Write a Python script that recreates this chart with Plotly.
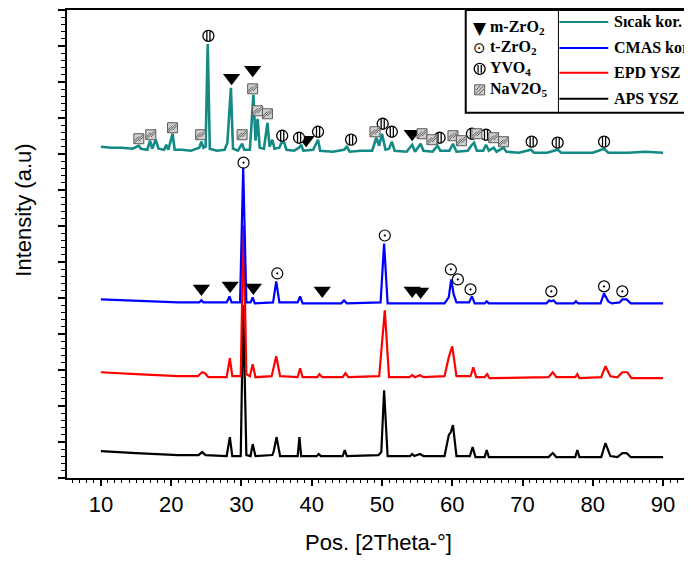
import plotly.graph_objects as go

# ---------------- data (2Theta in degrees, intensity in a.u.) ----------------
sicak_x = [10, 11.5, 13, 14.5, 15.4, 15.7, 16.6, 17.0, 17.3, 17.8, 18.2, 19.0, 19.3, 19.6, 20.2, 20.5,
           21.5, 22.8, 24.0, 24.3, 24.6, 24.9, 25.2, 25.5, 26.5, 27.6, 28.0, 28.5, 28.8, 29.5, 30.1, 30.4,
           31.2, 31.7, 32.0, 32.3, 32.6, 33.2, 33.7, 34.0, 34.4, 34.7, 35.4, 35.7, 36.1, 36.4, 37.5, 38.2,
           38.5, 38.8, 40.2, 40.9, 41.2, 43.0, 44.6, 45.0, 45.4, 47.0, 48.6, 49.2, 49.6, 50.0, 50.5, 51.0,
           51.4, 51.8, 53.5, 54.3, 54.7, 55.5, 55.9, 57.2, 57.9, 58.3, 59.6, 60.1, 60.6, 62.2, 62.7, 63.1,
           63.5, 64.4, 64.8, 65.2, 65.9, 66.3, 67.3, 67.7, 69.5, 71.2, 71.6, 73.5, 75.0, 75.5, 78.0, 80.0,
           81.6, 82.2, 85.0, 87.5, 90.0]
sicak_y = [332, 331, 331, 330, 333, 330, 329, 338, 330, 339, 330, 329, 334, 329, 345, 329,
           329, 328, 331, 337, 331, 332, 435, 330, 328, 329, 336, 391, 330, 328, 335, 329,
           329, 384, 338, 360, 331, 330, 356, 332, 339, 330, 331, 336, 336, 329, 328, 331,
           334, 328, 329, 339, 328, 327, 329, 332, 327, 328, 328, 341, 333, 345, 329, 330,
           337, 328, 327, 334, 327, 335, 328, 327, 333, 328, 328, 335, 327, 328, 333, 336,
           328, 328, 334, 328, 331, 327, 331, 327, 326, 329, 326, 326, 329, 326, 326, 326,
           330, 326, 326, 327, 326]

cmas_x = [10, 13, 17, 21, 24.0, 24.3, 24.6, 27.9, 28.3, 28.6, 29.8, 30.25, 30.7, 31.3, 31.6, 31.9,
          34.5, 34.95, 35.4, 38.0, 38.35, 38.7, 44.2, 44.6, 45.0, 49.8, 50.3, 50.8, 58.9, 59.5, 59.85,
          60.2, 60.6, 62.4, 62.8, 63.2, 64.6, 64.9, 65.2, 73.4, 73.8, 74.1, 74.4, 74.8, 77.3, 77.6, 77.9,
          81.1, 81.6, 82.2, 82.7, 83.8, 84.2, 84.8, 85.4, 90.0]
cmas_y = [179, 178, 177, 176, 176, 178, 176, 176, 182, 176, 176, 311, 176, 176, 181, 175,
          176, 197, 176, 176, 182, 175, 175, 178, 175, 176, 235, 175, 175, 181, 199,
          184, 176, 176, 182, 175, 175, 177, 175, 175, 178, 177, 178, 175, 175, 177, 175,
          175, 185, 177, 175, 176, 179, 179, 175, 175]

epd_x = [10, 12, 15, 18, 21, 23.8, 24.4, 24.8, 25.3, 27.9, 28.35, 28.7, 29.9, 30.3, 30.7, 31.2, 31.6,
         32.0, 34.3, 34.95, 35.5, 38.0, 38.35, 38.7, 40.8, 41.1, 41.5, 44.4, 44.8, 45.2, 49.6, 50.4,
         51.0, 53.9, 54.3, 54.7, 55.4, 55.9, 58.9, 59.5, 60.0, 60.6, 62.6, 63.0, 63.4, 64.6, 64.95,
         65.3, 73.7, 74.3, 74.8, 77.5, 77.8, 78.1, 81.2, 81.8, 82.5, 83.5, 84.2, 84.9, 85.5, 90.0]
epd_y = [106, 105, 104, 103, 102, 102, 106, 105, 101, 101, 120, 102, 102, 253, 104, 102, 114,
         101, 102, 122, 102, 101, 110, 101, 101, 104, 101, 101, 105, 101, 102, 168,
         101, 101, 103, 101, 103, 101, 102, 121, 132, 102, 102, 111, 101, 101, 104,
         100, 101, 106, 101, 101, 104, 100, 101, 112, 102, 101, 106, 106, 100, 100]

aps_x = [10, 12, 15, 18, 21, 23.9, 24.4, 24.9, 27.9, 28.35, 28.7, 29.9, 30.25, 30.7, 31.3, 31.6, 32.0,
         34.4, 34.6, 35.0, 35.5, 38.0, 38.25, 38.5, 40.7, 41.0, 41.3, 44.4, 44.7, 45.0, 49.5, 49.9,
         50.3, 50.8, 54.0, 54.3, 54.6, 55.4, 55.9, 58.9, 59.5, 59.8, 60.1, 60.6, 62.5, 62.9, 63.3,
         64.6, 64.9, 65.2, 73.7, 74.3, 74.8, 77.5, 77.8, 78.1, 81.2, 81.8, 82.5, 83.5, 84.2, 84.8,
         85.4, 90.0]
aps_y = [27, 26, 25, 24, 23, 23, 26, 23, 22, 41, 22, 22, 173, 23, 22, 34, 22,
         23, 27, 41, 22, 22, 41, 22, 22, 24, 22, 22, 28, 22, 23, 26,
         88, 22, 22, 24, 22, 24, 22, 22, 43, 46, 53, 22, 22, 31, 21,
         21, 28, 21, 21, 25, 21, 21, 28, 21, 21, 35, 22, 21, 25, 25,
         21, 21]

# phase marks (position, height)
mzro2_x = [28.6, 31.6, 39.2, 54.3, 24.3, 28.4, 31.7, 41.5, 54.3, 55.5]
mzro2_y = [401, 409, 339, 345, 190, 193, 191, 188, 188, 187]
tzro2_x = [30.3, 35.1, 50.4, 59.8, 60.8, 62.6, 74.1, 81.6, 84.2]
tzro2_y = [316, 205, 243, 209, 199, 189, 187, 192, 187]
yvo4_x = [25.3, 35.8, 38.2, 40.9, 45.6, 50.1, 51.4, 58.2, 62.8, 64.8, 71.3, 75.0, 81.6]
yvo4_y = [443, 343, 341, 347, 339, 355, 347, 341, 345, 344, 337, 336, 337]
nav_x = [15.4, 17.1, 20.2, 24.2, 30.1, 31.6, 32.3, 33.7, 49.0, 55.7, 57.1, 60.1, 61.3, 63.5, 65.9, 67.3]
nav_y = [340, 344, 351, 344, 344, 390, 368, 365, 347, 345, 339, 343, 338, 345, 341, 337]

series_names = ["Sıcak kor.", "CMAS kor.", "EPD YSZ", "APS YSZ"]
series_colors = ["#138a86", "#0000ff", "#ff0000", "#000000"]
phase_labels = ["m-ZrO<sub>2</sub>", "t-ZrO<sub>2</sub>", "YVO<sub>4</sub>", "NaV2O<sub>5</sub>"]

# ---------------- figure ----------------
OFF = 8                     # default page margin of the html body
W, H = 692 - OFF, 563 - OFF
PLOT_L, PLOT_R, PLOT_T, PLOT_B = 67, 692, 9, 478   # page pixels of the plot frame
L, R, T, B = PLOT_L - OFF, 0, PLOT_T - OFF, H - (PLOT_B - OFF)
pw, ph = W - L - R, H - T - B
HATCH_FILL, HATCH_LINE = "#cfcfcf", "#5a5a5a"
LEG_FONT = 16

fig = go.Figure()
for xs, ys, c, w in [(aps_x, aps_y, series_colors[3], 2.2), (epd_x, epd_y, series_colors[2], 2.2),
                     (cmas_x, cmas_y, series_colors[1], 2.2), (sicak_x, sicak_y, series_colors[0], 2.6)]:
    fig.add_trace(go.Scatter(x=xs, y=ys, mode="lines", line=dict(color=c, width=w),
                             showlegend=False, hoverinfo="skip"))

fig.add_trace(go.Scatter(x=mzro2_x, y=mzro2_y, mode="markers", showlegend=False, hoverinfo="skip",
                         marker=dict(symbol="triangle-down", size=15, color="black")))
fig.add_trace(go.Scatter(x=tzro2_x, y=tzro2_y, mode="markers", showlegend=False, hoverinfo="skip",
                         marker=dict(symbol="circle-open-dot", size=11, color="black",
                                     line=dict(width=1.2, color="black"))))
# YVO4: circle with vertical stripes
fig.add_trace(go.Scatter(x=yvo4_x, y=yvo4_y, mode="markers", showlegend=False, hoverinfo="skip",
                         marker=dict(symbol="circle", size=11, color="white",
                                     line=dict(width=1.3, color="black"))))
for shift in (-0.22, 0.22):
    fig.add_trace(go.Scatter(x=[v + shift for v in yvo4_x], y=yvo4_y, mode="markers", showlegend=False,
                             hoverinfo="skip",
                             marker=dict(symbol="line-ns-open", size=8, color="black",
                                         line=dict(width=1.3, color="black"))))
# NaV2O5: hatched grey square
fig.add_trace(go.Scatter(x=nav_x, y=nav_y, mode="markers", showlegend=False, hoverinfo="skip",
                         marker=dict(symbol="square", size=10, color=HATCH_FILL,
                                     line=dict(width=1, color=HATCH_LINE))))
fig.add_trace(go.Scatter(x=nav_x, y=nav_y, mode="markers", showlegend=False, hoverinfo="skip",
                         marker=dict(symbol="line-ne-open", size=9, color=HATCH_LINE,
                                     line=dict(width=1, color=HATCH_LINE))))
for shift in (-0.33, 0.33):
    fig.add_trace(go.Scatter(x=[v + shift for v in nav_x], y=nav_y, mode="markers", showlegend=False,
                             hoverinfo="skip",
                             marker=dict(symbol="line-ne-open", size=4.5, color=HATCH_LINE,
                                         line=dict(width=1, color=HATCH_LINE))))


def px2paper(px, py):
    """page pixel -> paper coordinate"""
    return (px - OFF - L) / pw, (H - B - (py - OFF)) / ph


def pline(xa, ya, xb, yb, color, width):
    a = px2paper(xa, ya)
    b = px2paper(xb, yb)
    return dict(type="line", xref="paper", yref="paper", x0=a[0], y0=a[1], x1=b[0], y1=b[1],
                line=dict(color=color, width=width), layer="above")


shapes = []
x0, y0 = px2paper(467, 112)
x1, y1 = px2paper(700, PLOT_T)
shapes.append(dict(type="rect", xref="paper", yref="paper", x0=x0, y0=y0, x1=x1, y1=y1,
                   line=dict(color="black", width=2), fillcolor="white", layer="above"))
shapes.append(pline(560, 112, 560, PLOT_T, "black", 1))

annotations = []
row_y = [27, 47, 68, 89]
sym_x = 481
# legend symbols
annotations.append(dict(x=px2paper(sym_x, row_y[0])[0], y=px2paper(sym_x, row_y[0])[1], xref="paper",
                        yref="paper", text="▼", showarrow=False,
                        font=dict(family="DejaVu Sans", size=17, color="black"),
                        xanchor="center", yanchor="middle"))
annotations.append(dict(x=px2paper(sym_x, row_y[1])[0], y=px2paper(sym_x, row_y[1])[1], xref="paper",
                        yref="paper", text="⊙", showarrow=False,
                        font=dict(family="DejaVu Sans", size=15, color="black"),
                        xanchor="center", yanchor="middle"))
cx0, cy0 = px2paper(sym_x - 5.5, row_y[2] + 5.5)
cx1, cy1 = px2paper(sym_x + 5.5, row_y[2] - 5.5)
shapes.append(dict(type="circle", xref="paper", yref="paper", x0=cx0, y0=cy0, x1=cx1, y1=cy1,
                   line=dict(color="black", width=1.3), fillcolor="white", layer="above"))
for s in (-1.6, 1.6):
    shapes.append(pline(sym_x + s, row_y[2] + 4, sym_x + s, row_y[2] - 4, "black", 1.3))
sq0 = px2paper(sym_x - 5, row_y[3] + 5)
sq1 = px2paper(sym_x + 5, row_y[3] - 5)
shapes.append(dict(type="rect", xref="paper", yref="paper", x0=sq0[0], y0=sq0[1], x1=sq1[0], y1=sq1[1],
                   line=dict(color=HATCH_LINE, width=1), fillcolor=HATCH_FILL, layer="above"))
shapes.append(pline(sym_x - 4, row_y[3] + 4, sym_x + 4, row_y[3] - 4, HATCH_LINE, 1))
shapes.append(pline(sym_x - 4, row_y[3] + 0.5, sym_x + 0.5, row_y[3] - 4, HATCH_LINE, 1))
shapes.append(pline(sym_x - 0.5, row_y[3] + 4, sym_x + 4, row_y[3] - 0.5, HATCH_LINE, 1))

for i in range(4):
    tx, ty = px2paper(489, row_y[i])
    annotations.append(dict(x=tx, y=ty, xref="paper", yref="paper", text="<b>" + phase_labels[i] + "</b>",
                            showarrow=False, font=dict(family="Liberation Serif", size=LEG_FONT, color="black"),
                            xanchor="left", yanchor="middle"))

line_y = [21, 47, 72, 98]
for i in range(4):
    shapes.append(pline(561, line_y[i], 610, line_y[i], series_colors[i], 2))
    tx, ty = px2paper(614, line_y[i])
    annotations.append(dict(x=tx, y=ty, xref="paper", yref="paper", text="<b>" + series_names[i] + "</b>",
                            showarrow=False, font=dict(family="Liberation Serif", size=LEG_FONT, color="black"),
                            xanchor="left", yanchor="middle"))

# axis titles
ax, ay = px2paper(380, 543)
annotations.append(dict(x=ax, y=ay, xref="paper", yref="paper", text="Pos. [2Theta-°]", showarrow=False,
                        font=dict(family="Liberation Sans", size=22, color="black"),
                        xanchor="center", yanchor="middle"))
bx, by = px2paper(23, 210)
annotations.append(dict(x=bx, y=by, xref="paper", yref="paper", text="Intensity (a.u)", showarrow=False,
                        textangle=-90, font=dict(family="Liberation Sans", size=22, color="black"),
                        xanchor="center", yanchor="middle"))

xr0 = 10 + (PLOT_L - 101) / 7.05
xr1 = 10 + (PLOT_R - 101) / 7.05
ytop = PLOT_B - PLOT_T

fig.update_layout(
    width=W, height=H, margin=dict(l=L, r=R, t=T, b=B, pad=0),
    paper_bgcolor="white", plot_bgcolor="white",
    shapes=shapes, annotations=annotations,
    xaxis=dict(range=[xr0, xr1], tickmode="linear", tick0=10, dtick=10, ticks="outside", ticklen=6,
               tickwidth=1.5, tickcolor="black", showline=True, linecolor="black", linewidth=2,
               mirror=True, showgrid=False, zeroline=False,
               tickfont=dict(family="Liberation Sans", size=22, color="black"),
               minor=dict(dtick=1, ticks="outside", ticklen=3, tickwidth=1.2, tickcolor="black", showgrid=False)),
    yaxis=dict(range=[0, ytop], tickmode="linear", tick0=0, dtick=ytop / 13, ticks="outside", ticklen=7,
               tickwidth=1.5, tickcolor="black", showline=True, linecolor="black", linewidth=2,
               mirror=True, showgrid=False, zeroline=False, showticklabels=False,
               minor=dict(dtick=ytop / 65, ticks="outside", ticklen=4, tickwidth=1.2, tickcolor="black",
                          showgrid=False)),
)

fig.write_html("out.html")
